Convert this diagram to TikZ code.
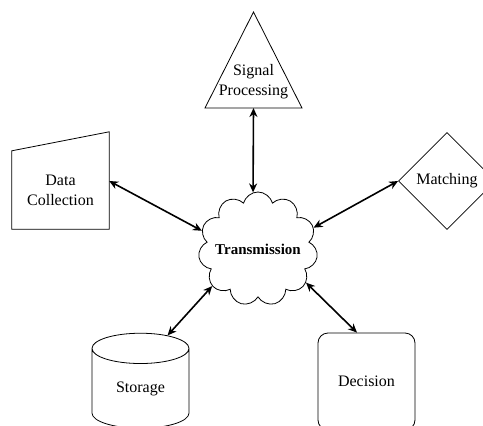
\documentclass[tikz,border=0pt]{standalone}
\usepackage{fontspec}
\setmainfont{Liberation Serif}
\usetikzlibrary{shapes.geometric,shapes.symbols,positioning,calc,arrows.meta}

\begin{document}
\begin{tikzpicture}[x=1pt,y=-1pt,>={Stealth[length=9pt,width=8pt]},
		font=\fontsize{16}{20}\selectfont,
		base node/.style={draw,line width=0.8pt,align=center,inner sep=0pt},
		link/.style={<->,line width=1.6pt}]
		\useasboundingbox (0,0) rectangle (483,426);
		% 中心
		\node[base node, cloud, cloud puffs=11, cloud ignores aspect, minimum width=112pt, minimum height=114pt, font=\fontsize{15}{18}\selectfont\bfseries] (tx) at (258,249) {Transmission};
		% 周围
		\node[align=center, inner sep=0pt] (sp) at (253.5,82) {Signal\\Processing};
		\draw[line width=0.8pt] ($(sp)+(0,-70)$) -- ($(sp)+(48.5,26)$) -- ($(sp)+(-48.5,26)$) -- cycle;
		\coordinate (sp-s) at ($(sp)+(0,26)$);
		\node[align=center, inner sep=0pt, minimum width=97pt, minimum height=78pt] (dc) at (60.5,190) {Data\\Collection};
		\draw[line width=0.8pt] (dc.south west) -- (dc.south east) -- ($(dc.north east)+(0,-19)$) -- (dc.north west) -- cycle;
		\coordinate (dc-e) at ($(dc.east)+(0,-9)$);
		\node[base node, diamond, aspect=1, minimum width=97pt, minimum height=97pt] (mt) at (447,181) {Matching};
		\node[base node, cylinder, shape border rotate=90, aspect=0.62, minimum width=97pt, minimum height=95pt] (st) at (140.5,388.5) {Storage};
		\node[base node, rectangle, rounded corners=10pt, minimum width=97pt, minimum height=97pt] (dn) at (366.5,381.5) {Decision};
		\draw[link] (sp-s) -- (tx.95);
		\draw[link] (dc-e) -- (tx.162);
		\draw[link] (mt.west) -- (tx.21);
		\draw[link] (st.63) -- (tx.219);
		\draw[link] (dn.101) -- (tx.325);
\end{tikzpicture}
\end{document}
